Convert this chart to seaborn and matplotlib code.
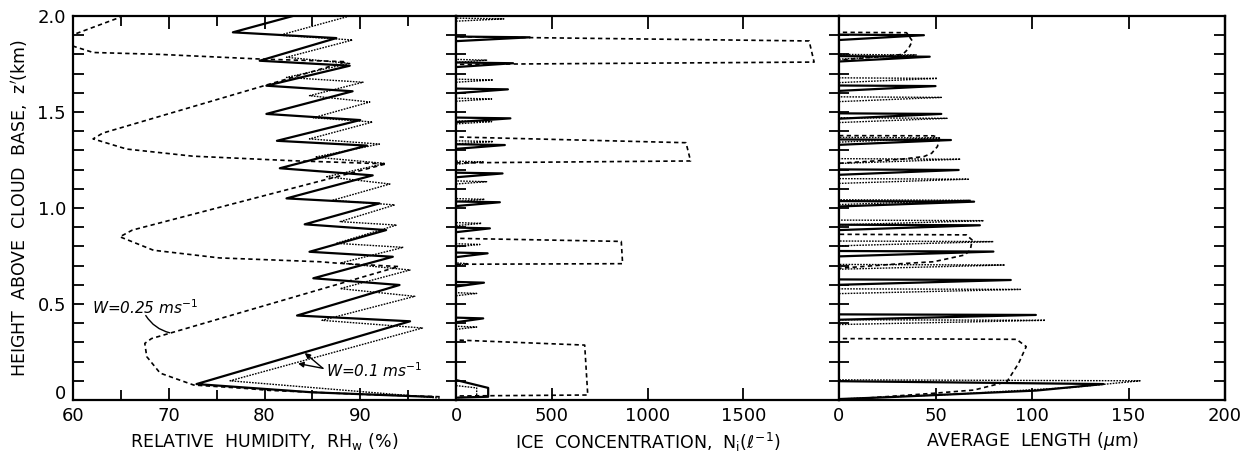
import matplotlib
matplotlib.use('Agg')
import numpy as np
import pandas as pd
import matplotlib.pyplot as plt
import matplotlib.transforms as mtransforms
from matplotlib.ticker import MultipleLocator
import seaborn as sns

# --- panel 1 : relative humidity (%) vs height (km)
rh_solid_z = [0.016, 0.04, 0.083, 0.41, 0.44, 0.599, 0.634, 0.746, 0.772, 0.885, 0.915,
              1.024, 1.05, 1.17, 1.207, 1.325, 1.35, 1.458, 1.49, 1.608, 1.637,
              1.741, 1.767, 1.885, 1.915, 2.01]
rh_solid = [97.6, 85.0, 72.9, 95.2, 83.4, 94.1, 85.1, 93.4, 84.7, 92.7, 84.2,
            92.0, 82.3, 91.3, 81.6, 90.7, 81.3, 90.0, 80.2, 89.2, 80.2,
            88.9, 79.5, 87.5, 76.7, 83.7]

rh_dot_z = [0.01, 0.10, 0.375, 0.415, 0.54, 0.58, 0.677, 0.713, 0.795, 0.816, 0.911, 0.929,
            1.016, 1.04, 1.125, 1.163, 1.232, 1.265, 1.333, 1.36, 1.448, 1.47,
            1.552, 1.585, 1.655, 1.68, 1.753, 1.785, 1.875, 1.9, 2.0]
rh_dot = [98.3, 76.4, 96.5, 86.0, 95.7, 87.9, 95.2, 87.9, 94.5, 87.5, 93.8, 87.9,
          93.6, 87.1, 93.1, 86.5, 92.6, 85.3, 92.0, 84.7, 91.3, 85.1,
          91.0, 84.7, 90.3, 82.3, 88.9, 82.3, 89.2, 81.6, 88.9]

rh_dash_z = [0.017, 0.03, 0.05, 0.06, 0.078, 0.14, 0.226, 0.295, 0.32, 0.695, 0.713, 0.72,
             0.74, 0.78, 0.85, 0.885, 1.23, 1.246, 1.27, 1.307, 1.36, 1.39, 1.762,
             1.776, 1.80, 1.81, 1.84, 1.87, 1.906, 1.993]
rh_dash = [98.3, 90.0, 80.5, 78.1, 72.6, 69.1, 67.7, 67.5, 68.2, 94.0, 87.5, 85.8,
           75.3, 68.4, 64.9, 66.2, 92.7, 83.0, 72.5, 65.6, 62.1, 63.1, 88.5,
           79.5, 69.1, 62.1, 60.2, 58.5, 60.2, 64.9]

# --- panel 2 : ice concentration (per litre)
ni_solid_z = [0.425, 0.611, 0.764, 0.894, 1.03, 1.18, 1.328, 1.467, 1.618, 1.754, 1.889]
ni_solid = [142, 146, 165, 177, 229, 243, 255, 284, 271, 298, 385]
ni_solid_base_z = [0.104, 0.063, 0.017, 0.012]
ni_solid_base = [0, 168, 168, 0]

ni_dot_z = [0.38, 0.555, 0.71, 0.81, 0.92, 1.045, 1.137, 1.24, 1.346, 1.45,
            1.568, 1.667, 1.77, 1.985]
ni_dot = [108, 108, 60, 125, 134, 150, 160, 142, 194, 186, 186, 194, 160, 250]
ni_dot_base_z = [0.075, 0.063, 0.017, 0.012]
ni_dot_base = [0, 108, 108, 0]

ni_dash_z = [0.0, 0.021, 0.026, 0.286, 0.3125, 0.707, 0.71, 0.826, 0.842,
             1.235, 1.245, 1.34, 1.37, 1.748, 1.76, 1.87, 1.892, 2.0]
ni_dash = [0, 0, 688, 672, 0, 0, 870, 863, 0,
           0, 1225, 1201, 0, 0, 1870, 1844, 0, 0]

# --- panel 3 : average crystal length (um)
len_solid_z = [0.443, 0.625, 0.773, 0.91, 1.033, 1.198, 1.354, 1.49, 1.635, 1.788, 1.90]
len_solid = [102, 89, 80, 73, 70, 62, 58, 53, 50, 47, 44]
len_solid_base_z = [0.005, 0.014, 0.049, 0.083, 0.098]
len_solid_base = [0, 24, 102, 137, 0]

len_dot_z = [0.415, 0.576, 0.703, 0.825, 0.934, 1.04, 1.15, 1.254, 1.365, 1.467,
             1.576, 1.675, 1.797]
len_dot = [107, 94, 86, 80, 75, 68, 67, 63, 52, 56, 53, 51, 40]
len_dot_base_z = [0.005, 0.03, 0.065, 0.10, 0.105]
len_dot_base = [0, 60, 120, 156, 0]

len_dash_z = [0.0, 0.035, 0.052, 0.095, 0.19, 0.278, 0.316, 0.32,
              0.686, 0.71, 0.72, 0.755, 0.78, 0.833, 0.86, 0.863,
              1.233, 1.254, 1.268, 1.285, 1.32, 1.363, 1.376, 1.377,
              1.77, 1.79, 1.80, 1.83, 1.87, 1.913, 1.915, 2.0]
len_dash = [0, 49, 70, 87, 93, 97, 92, 0,
            0, 32, 49, 65, 68, 69, 66, 0,
            0, 32, 44, 48, 51, 52, 49, 0,
            0, 23, 33, 36, 38, 35, 0, 0]


def spikes(zs, vals, below, above, base_z=None, base=None):
    # each spike: leave the axis a little below, reach the peak, come back just above
    rows = []
    for i, (z, v) in enumerate(zip(zs, vals)):
        for xx, zz in [(0, z - below), (v, z), (0, z + above)]:
            rows.append((xx, zz, i))
    if base_z is not None:
        for xx, zz in zip(base, base_z):
            rows.append((xx, zz, len(zs)))
    return pd.DataFrame(rows, columns=['x', 'z', 'seg'])


def line(xs, zs):
    return pd.DataFrame({'x': xs, 'z': zs, 'seg': 0})


solid_kw = dict(color='black', lw=1.6, linestyle='-')
dot_kw = dict(color='black', lw=1.0, linestyle=(0, (1.2, 0.9)))
dash_kw = dict(color='black', lw=1.2, linestyle=(0, (2.6, 2.0)))

sns.set_style('ticks')
plt.rcParams['font.family'] = ['DejaVu Sans']
plt.rcParams['axes.linewidth'] = 1.6
for k in ['text.color', 'axes.labelcolor', 'xtick.color', 'ytick.color', 'axes.edgecolor']:
    plt.rcParams[k] = 'black'

fig = plt.figure(figsize=(12.44, 4.55), dpi=100)
W, H = 1244, 455
bot, hgt = 55 / H, 384 / H
ax1 = fig.add_axes([73 / W, bot, 383 / W, hgt])
ax2 = fig.add_axes([456 / W, bot, 383 / W, hgt])
ax3 = fig.add_axes([839 / W, bot, 386 / W, hgt])

panels = [
    (ax1, [line(rh_solid, rh_solid_z), line(rh_dot, rh_dot_z), line(rh_dash, rh_dash_z)]),
    (ax2, [spikes(ni_solid_z, ni_solid, 0.02, 0.004, ni_solid_base_z, ni_solid_base),
           spikes(ni_dot_z, ni_dot, 0.012, 0.004, ni_dot_base_z, ni_dot_base),
           line(ni_dash, ni_dash_z)]),
    (ax3, [spikes(len_solid_z, len_solid, 0.025, 0.003, len_solid_base_z, len_solid_base),
           spikes(len_dot_z, len_dot, 0.022, 0.003, len_dot_base_z, len_dot_base),
           line(len_dash, len_dash_z)]),
]

for ax, (d_solid, d_dot, d_dash) in panels:
    for d, kw in [(d_dash, dash_kw), (d_dot, dot_kw), (d_solid, solid_kw)]:
        sns.lineplot(data=d, x='x', y='z', units='seg', estimator=None,
                     sort=False, ax=ax, **kw)
    ax.set_ylim(0, 2.0)
    ax.yaxis.set_major_locator(MultipleLocator(0.5))
    ax.yaxis.set_minor_locator(MultipleLocator(0.1))
    ax.set_xlabel('')
    ax.set_ylabel('')

ax1.set_xlim(60, 100)
ax1.set_xticks([60, 70, 80, 90, 100])
ax1.set_xticklabels(['60', '70', '80', '90', ''])
ax1.xaxis.set_minor_locator(MultipleLocator(5))
ax2.set_xlim(0, 2000)
ax2.set_xticks([0, 500, 1000, 1500, 2000])
ax2.set_xticklabels(['0', '500', '1000', '1500', ''])
ax3.set_xlim(0, 200)
ax3.set_xticks([0, 50, 100, 150, 200])
ax3.set_xticklabels(['0', '50', '100', '150', '200'])

for ax in (ax1, ax2, ax3):
    ax.tick_params(axis='x', which='both', direction='in', top=True, bottom=True,
                   labelsize=13, pad=5, width=1.3)
    ax.tick_params(axis='x', which='major', length=9)
    ax.tick_params(axis='x', which='minor', length=7)
    ax.tick_params(axis='y', which='both', right=False, left=True, width=1.3)

ax1.tick_params(axis='y', which='both', direction='in', length=8, labelsize=13, pad=5)
ax1.set_yticks([0, 0.5, 1.0, 1.5, 2.0])
ax1.set_yticklabels(['0', '0.5', '1.0', '1.5', '2.0'])
# lift the bottom "0" a little so it clears the "60" below it
zero_lab = ax1.get_yticklabels()[0]
zero_lab.set_transform(zero_lab.get_transform() +
                       mtransforms.ScaledTranslation(0, 6 / 72, fig.dpi_scale_trans))
for ax in (ax2, ax3):
    ax.tick_params(axis='y', which='both', direction='inout', length=14, labelleft=False)

sec = ax3.secondary_yaxis('right')
sec.yaxis.set_major_locator(MultipleLocator(0.5))
sec.yaxis.set_minor_locator(MultipleLocator(0.1))
sec.tick_params(axis='y', which='both', direction='in', length=8, width=1.3, labelright=False)

lab = dict(fontsize=12.5)
ax1.set_xlabel('RELATIVE  HUMIDITY,  RH$_\\mathregular{w}$ (%)', labelpad=4, **lab)
ax2.set_xlabel('ICE  CONCENTRATION,  N$_\\mathregular{i}$($\\ell^{-1}$)', labelpad=4, **lab)
ax3.set_xlabel('AVERAGE  LENGTH ($\\mu$m)', labelpad=4, **lab)
ax1.set_ylabel("HEIGHT  ABOVE  CLOUD  BASE,  z$'$(km)", labelpad=5, **lab)

ax1.text(62.0, 0.48, 'W=0.25 ms$^{-1}$', fontsize=11, fontstyle='italic',
         va='center', ha='left')
ax1.annotate('', xy=(70.1, 0.35), xytext=(67.6, 0.44),
             arrowprops=dict(arrowstyle='-', lw=1.0, shrinkA=0, shrinkB=0,
                             connectionstyle='arc3,rad=0.2', color='black'))
ax1.text(86.4, 0.155, 'W=0.1 ms$^{-1}$', fontsize=11, fontstyle='italic',
         va='center', ha='left')
for tip in [(84.2, 0.245), (83.5, 0.19)]:
    ax1.annotate('', xy=tip, xytext=(86.1, 0.165),
                 arrowprops=dict(arrowstyle='-|>', lw=1.0, shrinkA=0, shrinkB=0,
                                 mutation_scale=8, color='black'))

fig.savefig('out.png', dpi=100)
